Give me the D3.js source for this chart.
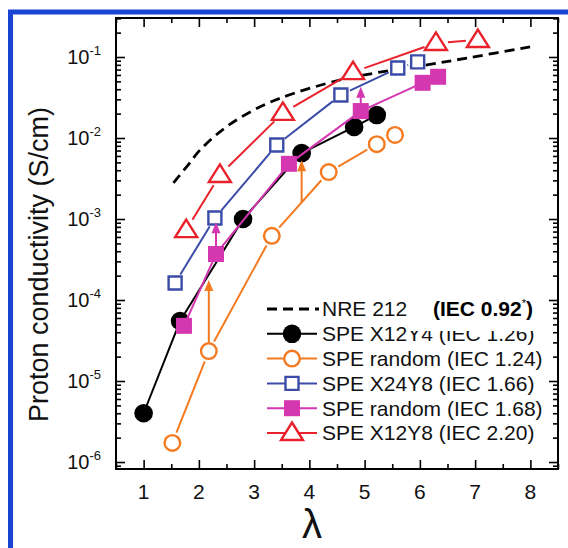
<!DOCTYPE html>
<html>
<head>
<meta charset="utf-8">
<script src="https://cdn.jsdelivr.net/npm/d3@7"></script>
<style>
  body { margin: 0; background: #fff; }
  svg { display: block; }
</style>
</head>
<body>
<svg id="chart"></svg>
<script>
const W = 568, H = 548;
const margin = {"top": 18, "left": 116, "right": 10, "bottom": 79};
const FONT = "'Liberation Sans', Arial, sans-serif";

// values (lambda, S/cm)
const nreLambda = [1.54, 1.80, 2.02, 2.47, 2.93, 3.47, 4.55, 5.28, 6.13, 6.85, 8.08];
const nreSigma  = [2.8e-3, 4.6e-3, 7.1e-3, 1.33e-2, 2.1e-2, 3.1e-2, 5.2e-2, 6.5e-2, 8.0e-2, 9.7e-2, 0.137];

const x12y4Lambda = [1.0, 1.66, 2.80, 3.86, 4.81, 5.22];
const x12y4Sigma  = [4.0e-6, 5.5e-5, 1.0e-3, 6.5e-3, 1.37e-2, 1.92e-2];

const rand124Lambda = [1.52, 2.18, 3.32, 4.35, 5.22, 5.55];
const rand124Sigma  = [1.72e-6, 2.34e-5, 6.2e-4, 3.8e-3, 8.4e-3, 1.09e-2];

const x24y8Lambda = [1.57, 2.29, 3.41, 4.57, 5.60, 5.96];
const x24y8Sigma  = [1.62e-4, 1.03e-3, 8.2e-3, 3.4e-2, 7.3e-2, 8.7e-2];

const rand168Lambda = [1.73, 2.31, 3.63, 4.93, 6.05, 6.33];
const rand168Sigma  = [4.8e-5, 3.7e-4, 4.8e-3, 2.15e-2, 4.8e-2, 5.7e-2];

const x12y8Lambda = [1.77, 2.38, 3.52, 4.79, 6.29, 7.05];
const x12y8Sigma  = [7.3e-4, 3.5e-3, 2.04e-2, 6.5e-2, 0.149, 0.162];

// arrows (lambda, from, to)
const arrowLambda = [2.18, 3.86, 2.31, 4.93];
const arrowFrom   = [2.34e-5, 1.58e-3, 3.7e-4, 2.15e-2];
const arrowTo     = [1.77e-4, 5.3e-3, 9.1e-4, 4.3e-2];
const arrowOf     = ["rand124", "rand124", "rand168", "rand168"];

const legendLabels = ["NRE 212", "SPE X12Y4 (IEC 1.26)", "SPE random (IEC 1.24)",
  "SPE X24Y8 (IEC 1.66)", "SPE random (IEC 1.68)", "SPE X12Y8 (IEC 2.20)"];
const xTicks = [1, 2, 3, 4, 5, 6, 7, 8];
const xMinor = [0.5, 1.5, 2.5, 3.5, 4.5, 5.5, 6.5, 7.5, 8.5];
const yTicks = [1e-1, 1e-2, 1e-3, 1e-4, 1e-5, 1e-6];
const yExp   = ["-1", "-2", "-3", "-4", "-5", "-6"];

//------------------------------

const series = [
  {key: "x12y4",   lambda: x12y4Lambda,   sigma: x12y4Sigma,   color: "#000000", mark: "circle",  fill: true,  gap: 0},
  {key: "rand124", lambda: rand124Lambda, sigma: rand124Sigma, color: "#f47a20", mark: "circle",  fill: false, gap: 11},
  {key: "x24y8",   lambda: x24y8Lambda,   sigma: x24y8Sigma,   color: "#3b4ca8", mark: "square",  fill: false, gap: 10},
  {key: "rand168", lambda: rand168Lambda, sigma: rand168Sigma, color: "#d437b0", mark: "square",  fill: true,  gap: 0},
  {key: "x12y8",   lambda: x12y8Lambda,   sigma: x12y8Sigma,   color: "#e8212b", mark: "triangle", fill: false, gap: 12}
];

const x = d3.scaleLinear().domain([0.5, 8.5]).range([margin.left, W - margin.right]);
const y = d3.scaleLog().domain([8.2e-7, 0.303]).range([H - margin.bottom, margin.top]);

const svg = d3.select("#chart").attr("width", W).attr("height", H);

render();

function render() {
  frameCreate();
  axisCreate();
  nreCreate();
  series.forEach(s => seriesCreate(s));
  arrowCreate();
  legendCreate();
}

//------------------------------

function frameCreate() {
  svg.append("rect")
    .attr("x", 10.5).attr("y", 12)
    .attr("width", 700).attr("height", 700)
    .attr("fill", "none")
    .attr("stroke", "#1a44d2")
    .attr("stroke-width", 5);
}

function axisCreate() {
  const x0 = x.range()[0], x1 = x.range()[1];
  const y0 = y.range()[0], y1 = y.range()[1];

  let yMinor = [];
  for (let e = -7; e <= -1; e++) {
    for (let m = 2; m <= 9; m++) {
      let v = m * Math.pow(10, e);
      if (v > y.domain()[0] && v < y.domain()[1]) yMinor.push(v);
    }
  }

  const tickAxis = (axis, vals, size) => axis.tickValues(vals).tickSize(size).tickSizeOuter(0).tickFormat("");

  svg.append("g").attr("transform", `translate(0,${y0})`).call(tickAxis(d3.axisBottom(x), xTicks, -9));
  svg.append("g").attr("transform", `translate(0,${y0})`).call(tickAxis(d3.axisBottom(x), xMinor, -5));
  svg.append("g").attr("transform", `translate(0,${y1})`).call(tickAxis(d3.axisTop(x), xTicks, -9));
  svg.append("g").attr("transform", `translate(0,${y1})`).call(tickAxis(d3.axisTop(x), xMinor, -5));
  svg.append("g").attr("transform", `translate(${x0},0)`).call(tickAxis(d3.axisLeft(y), yTicks, -9));
  svg.append("g").attr("transform", `translate(${x0},0)`).call(tickAxis(d3.axisLeft(y), yMinor, -5));
  svg.append("g").attr("transform", `translate(${x1},0)`).call(tickAxis(d3.axisRight(y), yTicks, -9));
  svg.append("g").attr("transform", `translate(${x1},0)`).call(tickAxis(d3.axisRight(y), yMinor, -5));

  svg.selectAll(".domain").remove();
  svg.selectAll(".tick line").attr("stroke", "#000").attr("stroke-width", 1.6);

  svg.append("rect")
    .attr("x", x0).attr("y", y1)
    .attr("width", x1 - x0).attr("height", y0 - y1)
    .attr("fill", "none")
    .attr("stroke", "#000")
    .attr("stroke-width", 2);

  // tick labels
  svg.append("g").selectAll("text")
    .data(xTicks)
    .enter()
    .append("text")
    .attr("x", d => x(d))
    .attr("y", y0 + 23)
    .attr("dy", "0.35em")
    .attr("text-anchor", "middle")
    .attr("font-family", FONT)
    .attr("font-size", 21)
    .attr("fill", "#111")
    .text(d => d);

  let yl = svg.append("g").selectAll("text")
    .data(yTicks)
    .enter()
    .append("text")
    .attr("x", 101)
    .attr("y", d => y(d) + 7)
    .attr("text-anchor", "end")
    .attr("font-family", FONT)
    .attr("font-size", 20)
    .attr("fill", "#111");
  yl.append("tspan").text("10");
  yl.append("tspan")
    .attr("dy", -9)
    .attr("font-size", 13)
    .text((d, i) => yExp[i]);

  // axis titles
  svg.append("text")
    .attr("transform", `translate(39,${(y0 + y1) / 2 + 21}) rotate(-90)`)
    .attr("text-anchor", "middle")
    .attr("dominant-baseline", "central")
    .attr("font-family", FONT)
    .attr("font-size", 27)
    .attr("fill", "#111")
    .text("Proton conductivity (S/cm)");

  svg.append("text")
    .attr("x", (x0 + x1) / 2 - 25)
    .attr("y", 524)
    .attr("dy", "0.35em")
    .attr("text-anchor", "middle")
    .attr("font-family", FONT)
    .attr("font-size", 40)
    .attr("fill", "#111")
    .text("λ");
}

function nreCreate() {
  const pts = nreLambda.map((l, i) => [x(l), y(nreSigma[i])]);
  svg.append("path")
    .attr("d", d3.line().curve(d3.curveCatmullRom.alpha(0.5))(pts))
    .attr("fill", "none")
    .attr("stroke", "#000")
    .attr("stroke-width", 2.8)
    .attr("stroke-dasharray", "10,6");
}

function markerPath(mark) {
  if (mark == "square") return "M-7.5,-7.5H7.5V7.5H-7.5Z";
  if (mark == "triangle") return "M0,-10.5L11,7L-11,7Z";
  return null;
}

function drawMarker(g, s, px, py) {
  const lw = 2.4;
  if (s.mark == "circle") {
    g.append("circle")
      .attr("cx", px).attr("cy", py)
      .attr("r", s.fill ? 9.3 : 7.8)
      .attr("fill", s.fill ? s.color : "#fff")
      .attr("stroke", s.color)
      .attr("stroke-width", s.fill ? 0 : lw);
  } else {
    let d = s.mark == "square" && s.fill ? "M-8,-8H8V8H-8Z"
      : s.mark == "square" ? "M-6.5,-6.5H6.5V6.5H-6.5Z" : markerPath(s.mark);
    g.append("path")
      .attr("d", d)
      .attr("transform", `translate(${px},${py})`)
      .attr("fill", s.fill ? s.color : "#fff")
      .attr("stroke", s.color)
      .attr("stroke-width", s.fill ? 0 : lw)
      .attr("stroke-linejoin", "miter");
  }
}

function seriesCreate(s) {
  const g = svg.append("g");
  const pts = s.lambda.map((l, i) => [x(l), y(s.sigma[i])]);
  let segs = [];
  for (let i = 0; i < pts.length - 1; i++) {
    let [ax, ay] = pts[i], [bx, by] = pts[i + 1];
    let len = Math.hypot(bx - ax, by - ay);
    if (len <= 2 * s.gap) continue;
    let ux = (bx - ax) / len, uy = (by - ay) / len;
    segs.push({x1: ax + ux * s.gap, y1: ay + uy * s.gap, x2: bx - ux * s.gap, y2: by - uy * s.gap});
  }
  g.selectAll("line")
    .data(segs)
    .enter()
    .append("line")
    .attr("x1", d => d.x1).attr("y1", d => d.y1)
    .attr("x2", d => d.x2).attr("y2", d => d.y2)
    .attr("stroke", s.color)
    .attr("stroke-width", 2);
  pts.forEach(p => drawMarker(g, s, p[0], p[1]));
}

function arrowCreate() {
  const g = svg.append("g");
  arrowLambda.forEach((l, i) => {
    const s = series.find(d => d.key == arrowOf[i]);
    const px = x(l);
    let start = y(arrowFrom[i]);
    if (!s.fill && i == 0) start -= 9;
    const tip = y(arrowTo[i]);
    g.append("line")
      .attr("x1", px).attr("y1", start)
      .attr("x2", px).attr("y2", tip + 8)
      .attr("stroke", s.color)
      .attr("stroke-width", 2);
    g.append("path")
      .attr("d", `M${px},${tip}L${px + 4.5},${tip + 11}L${px - 4.5},${tip + 11}Z`)
      .attr("fill", s.color);
  });
}

function legendCreate() {
  const g = svg.append("g");
  const rowY = (i) => 309 + i * 24.8;
  const lx0 = 267, lx1 = 317, mx = 292, tx = 322;

  legendLabels.forEach((lab, i) => {
    if (i == 0) {
      g.append("line")
        .attr("x1", lx0).attr("x2", lx1 + 2)
        .attr("y1", rowY(i)).attr("y2", rowY(i))
        .attr("stroke", "#000")
        .attr("stroke-width", 2.8)
        .attr("stroke-dasharray", "10,6");
    } else {
      const s = series[i - 1];
      g.append("line")
        .attr("x1", lx0).attr("x2", lx1)
        .attr("y1", rowY(i)).attr("y2", rowY(i))
        .attr("stroke", s.color)
        .attr("stroke-width", 2);
      drawMarker(g, s, mx, rowY(i));
    }
    g.append("text")
      .attr("x", tx)
      .attr("y", rowY(i))
      .attr("dy", "0.35em")
      .attr("font-family", FONT)
      .attr("font-size", 21)
      .attr("fill", "#111")
      .text(lab);
  });

  // bold IEC note sits on a white box that clips the row below
  g.append("rect")
    .attr("x", 408).attr("y", 294)
    .attr("width", 140).attr("height", 37)
    .attr("fill", "#fff");
  let note = g.append("text")
    .attr("x", 433)
    .attr("y", rowY(0))
    .attr("dy", "0.35em")
    .attr("font-family", FONT)
    .attr("font-size", 21)
    .attr("font-weight", "bold")
    .attr("fill", "#000");
  note.append("tspan").text("(IEC 0.92");
  note.append("tspan").attr("dy", -9).attr("font-size", 11).attr("font-weight", "normal").text("*");
  note.append("tspan").attr("dy", 9).text(")");
}
</script>
</body>
</html>
